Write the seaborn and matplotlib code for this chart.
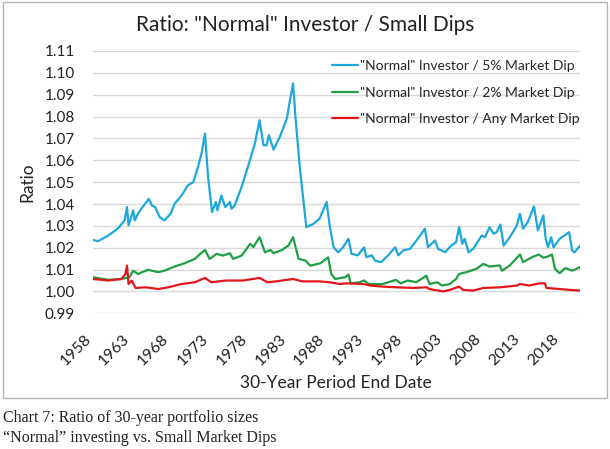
import pandas as pd
import seaborn as sns
import matplotlib.pyplot as plt
from matplotlib.patches import Rectangle
from matplotlib.transforms import ScaledTranslation

# Data (year, ratio)
blue_years = [1958.0, 1958.7, 1960.0, 1961.2, 1962.1, 1962.4, 1962.6, 1963.2, 1963.4, 1963.8,
              1964.4, 1965.2, 1965.6, 1966.0, 1966.6, 1967.2, 1968.0, 1968.5, 1969.4, 1970.2,
              1970.9, 1971.5, 1972.0, 1972.4, 1972.8, 1973.3, 1973.8, 1974.0, 1974.5, 1975.0,
              1975.6, 1975.8, 1976.2, 1977.1, 1977.9, 1978.8, 1979.4, 1979.9, 1980.3, 1980.6,
              1981.2, 1982.0, 1982.9, 1983.3, 1983.7, 1984.0, 1984.6, 1985.4, 1986.3, 1987.1,
              1988.0, 1988.4, 1988.9, 1989.5, 1990.1, 1990.8, 1991.2, 1992.0, 1992.8, 1993.1,
              1993.8, 1994.2, 1995.0, 1995.9, 1996.8, 1997.2, 1997.8, 1998.7, 1999.7, 2000.6,
              2001.0, 2001.9, 2002.3, 2003.2, 2004.0, 2004.6, 2005.0, 2005.4, 2005.7, 2006.2,
              2006.8, 2007.9, 2008.3, 2008.9, 2009.4, 2009.8, 2010.3, 2010.7, 2011.5, 2012.4,
              2012.8, 2013.2, 2013.8, 2014.6, 2015.1, 2015.8, 2016.1, 2016.4, 2016.8, 2017.1,
              2017.9, 2018.5, 2019.1, 2019.5, 2019.8, 2020.5]
blue_vals = [1.0236, 1.0230, 1.0256, 1.0287, 1.0325, 1.0386, 1.0302, 1.0371, 1.0325, 1.0356,
             1.0386, 1.0424, 1.0393, 1.0386, 1.0340, 1.0325, 1.0356, 1.0401, 1.0439, 1.0485,
             1.0500, 1.0569, 1.0638, 1.0722, 1.0523, 1.0363, 1.0409, 1.0371, 1.0439, 1.0386,
             1.0409, 1.0378, 1.0393, 1.0478, 1.0569, 1.0676, 1.0783, 1.0669, 1.0669, 1.0715,
             1.0649, 1.0707, 1.0791, 1.0875, 1.0952, 1.0800, 1.0554, 1.0294, 1.0309, 1.0333,
             1.0409, 1.0300, 1.0202, 1.0179, 1.0202, 1.0241, 1.0172, 1.0165, 1.0202, 1.0157,
             1.0165, 1.0141, 1.0134, 1.0165, 1.0202, 1.0165, 1.0187, 1.0195, 1.0241, 1.0287,
             1.0202, 1.0233, 1.0195, 1.0179, 1.0210, 1.0225, 1.0294, 1.0218, 1.0241, 1.0179,
             1.0195, 1.0256, 1.0248, 1.0294, 1.0264, 1.0271, 1.0306, 1.0210, 1.0248, 1.0302,
             1.0356, 1.0287, 1.0317, 1.0389, 1.0279, 1.0348, 1.0241, 1.0202, 1.0248, 1.0202,
             1.0241, 1.0256, 1.0271, 1.0187, 1.0179, 1.0210]

green_years = [1958.0, 1960.0, 1961.7, 1962.7, 1963.2, 1963.8, 1965.1, 1966.4, 1967.2, 1968.5,
               1969.8, 1971.1, 1971.9, 1972.4, 1973.0, 1973.9, 1974.7, 1975.6, 1976.0, 1977.1,
               1978.2, 1978.6, 1979.4, 1980.1, 1980.8, 1981.2, 1982.3, 1983.1, 1983.7, 1984.4,
               1985.3, 1985.9, 1987.2, 1988.2, 1988.6, 1989.1, 1990.4, 1990.8, 1991.1, 1992.2,
               1992.8, 1993.4, 1995.2, 1996.9, 1997.5, 1998.4, 1999.5, 2000.8, 2001.2, 2002.2,
               2002.8, 2003.8, 2004.6, 2005.0, 2005.9, 2007.2, 2008.1, 2008.9, 2010.2, 2010.5,
               2011.5, 2012.8, 2013.2, 2014.3, 2015.2, 2015.8, 2016.4, 2016.9, 2017.3, 2017.9,
               2018.6, 2019.5, 2020.5]
green_vals = [1.0065, 1.0053, 1.0057, 1.0065, 1.0095, 1.0080, 1.0099, 1.0088, 1.0095, 1.0114,
              1.0129, 1.0149, 1.0175, 1.0190, 1.0149, 1.0172, 1.0164, 1.0175, 1.0149, 1.0164,
              1.0218, 1.0203, 1.0248, 1.0179, 1.0190, 1.0175, 1.0190, 1.0210, 1.0248, 1.0149,
              1.0141, 1.0118, 1.0129, 1.0156, 1.0080, 1.0057, 1.0065, 1.0077, 1.0037, 1.0042,
              1.0050, 1.0034, 1.0034, 1.0053, 1.0037, 1.0050, 1.0042, 1.0072, 1.0034, 1.0042,
              1.0027, 1.0034, 1.0057, 1.0080, 1.0088, 1.0103, 1.0126, 1.0114, 1.0119, 1.0095,
              1.0119, 1.0169, 1.0134, 1.0156, 1.0169, 1.0154, 1.0160, 1.0169, 1.0103, 1.0083,
              1.0107, 1.0095, 1.0111]

red_years = [1958.0, 1960.0, 1961.7, 1962.2, 1962.4, 1962.6, 1963.0, 1963.5, 1964.8, 1966.4,
             1967.7, 1969.4, 1971.1, 1972.4, 1973.2, 1975.1, 1977.3, 1979.4, 1980.4, 1981.5,
             1983.7, 1984.9, 1987.1, 1988.4, 1989.7, 1990.6, 1992.7, 1993.6, 1995.2, 1996.9,
             1999.1, 2000.8, 2001.2, 2002.9, 2003.8, 2005.0, 2005.5, 2006.8, 2008.1, 2010.3,
             2012.4, 2012.8, 2014.0, 2015.3, 2016.0, 2016.2, 2017.9, 2019.2, 2020.5]
red_vals = [1.0057, 1.0050, 1.0057, 1.0080, 1.0118, 1.0034, 1.0050, 1.0016, 1.0019, 1.0011,
            1.0019, 1.0034, 1.0042, 1.0062, 1.0042, 1.0050, 1.0050, 1.0062, 1.0042, 1.0046,
            1.0057, 1.0046, 1.0046, 1.0042, 1.0034, 1.0037, 1.0034, 1.0027, 1.0022, 1.0019,
            1.0016, 1.0019, 1.0011, 1.0000, 1.0007, 1.0022, 1.0007, 1.0004, 1.0016, 1.0019,
            1.0027, 1.0034, 1.0027, 1.0037, 1.0037, 1.0016, 1.0011, 1.0007, 1.0004]

series_names = ['"Normal" Investor / 5% Market Dip',
                '"Normal" Investor / 2% Market Dip',
                '"Normal" Investor / Any Market Dip']
series_colors = ["#1ea7dd", "#1f9e45", "#e3161b"]
year_ticks = list(range(1958, 2019, 5))
ratio_ticks = [0.99, 1.00, 1.01, 1.02, 1.03, 1.04, 1.05, 1.06, 1.07, 1.08, 1.09, 1.10, 1.11]

df = pd.concat([
    pd.DataFrame({"year": blue_years, "ratio": blue_vals, "series": series_names[0]}),
    pd.DataFrame({"year": green_years, "ratio": green_vals, "series": series_names[1]}),
    pd.DataFrame({"year": red_years, "ratio": red_vals, "series": series_names[2]}),
])

sns.set_style("white")
plt.rcParams['font.family'] = ['Lato', 'DejaVu Sans']

W, H = 610, 449
fig = plt.figure(figsize=(W / 100, H / 100), dpi=100)
left, right, top, bottom = 92.7, 580, 51, 313.3
ax = fig.add_axes([left / W, 1 - bottom / H, (right - left) / W, (bottom - top) / H])

sns.lineplot(data=df, x="year", y="ratio", hue="series", hue_order=series_names,
             palette=series_colors, estimator=None, sort=False, linewidth=1.6, ax=ax)

ax.set_xlim(1958, 2020.5)
ax.set_ylim(0.99, 1.11)
ax.set_yticks(ratio_ticks)
ax.set_yticklabels([f"{t:.2f}" for t in ratio_ticks])
ax.set_xticks(year_ticks)
ax.set_xticklabels([str(y) for y in year_ticks], rotation=45, ha="right",
                   rotation_mode="anchor", va="center")
ax.tick_params(axis="y", length=0, pad=13, labelsize=11, labelcolor="#222222")
ax.tick_params(axis="x", length=0, pad=15, labelsize=11.5, labelcolor="#222222")
shift = ScaledTranslation(-4 / 100, -3 / 100, fig.dpi_scale_trans)
for lbl in ax.get_xticklabels():
    lbl.set_transform(lbl.get_transform() + shift)
ax.yaxis.grid(True, color="#d9d9d9", linewidth=1)
ax.xaxis.grid(False)
for s in ax.spines.values():
    s.set_visible(False)

ax.set_ylabel("Ratio", fontsize=12.5, color="#222222")
ax.yaxis.set_label_coords((35 - left) / (right - left), 0.5)
ax.set_xlabel("30-Year Period End Date", fontsize=12.5, color="#222222")
ax.xaxis.set_label_coords(0.5, (bottom - 375) / (bottom - top))

ax.legend(loc="upper left", bbox_to_anchor=((332 - left) / (right - left), (bottom - 60) / (bottom - top)),
          frameon=False, fontsize=10, handlelength=1.9, handletextpad=0.15,
          labelspacing=1.05, borderpad=0, borderaxespad=0)

fig.text(305 / W, 1 - 25 / H, 'Ratio: "Normal" Investor / Small Dips', fontsize=15,
         ha="center", va="center", color="#222222")

# chart border
fig.patches.append(Rectangle((2.7 / W, 1 - 398.3 / H), (607.3 - 2.7) / W, (398.3 - 1.7) / H,
                             transform=fig.transFigure, fill=False, edgecolor="#b3b3b3",
                             linewidth=1))

# caption
fig.text(3 / W, 1 - 421.7 / H, "Chart 7: Ratio of 30-year portfolio sizes",
         family="Liberation Serif", fontsize=11.5, color="#222222", va="baseline")
fig.text(3 / W, 1 - 441.7 / H, "\u201cNormal\u201d investing vs. Small Market Dips",
         family="Liberation Serif", fontsize=11.5, color="#222222", va="baseline")

fig.savefig("out.png", dpi=100)
